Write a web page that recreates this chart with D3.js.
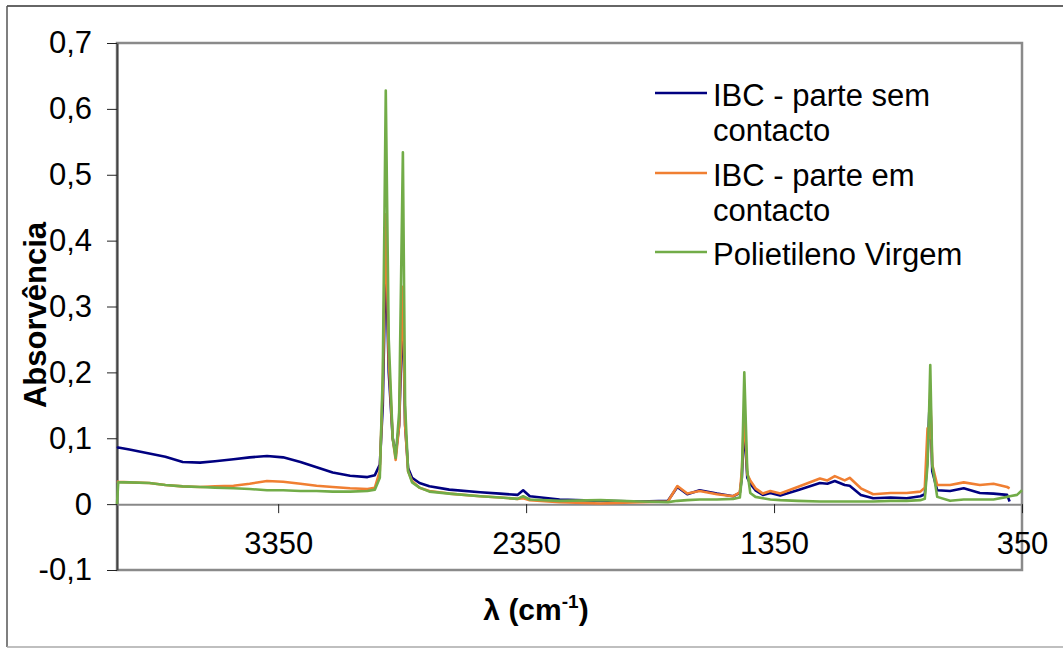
<!DOCTYPE html>
<html>
<head>
<meta charset="utf-8">
<script src="https://cdn.jsdelivr.net/npm/d3@7"></script>
<style>
  body { margin: 0; background: #fff; }
  svg { display: block; font-family: "Liberation Sans", Arial, sans-serif; }
</style>
</head>
<body>
<svg id="chart" width="1063" height="648"></svg>
<script>
// wavenumbers (cm-1)
var wavenumbers = [
  4000, 3995, 3950, 3870, 3805, 3735, 3665, 3605, 3530, 3465,
  3395, 3330, 3260, 3195, 3130, 3060, 2990, 2960, 2940, 2928,
  2916, 2904, 2888, 2876, 2862, 2854, 2847, 2838, 2826, 2810,
  2780, 2740, 2660, 2535, 2455, 2385, 2362, 2335, 2215, 2050,
  1890, 1778, 1740, 1700, 1650, 1580, 1515, 1488, 1480, 1470,
  1458, 1446, 1425, 1395, 1365, 1325, 1255, 1165, 1135, 1105,
  1065, 1045, 1000, 950, 880, 815, 760, 742, 731, 724,
  720, 712, 692, 640, 585, 520, 465, 410, 400, 370,
  350
];

// IBC - parte sem contacto
var semContacto = [
  0.085, 0.086, 0.083, 0.077, 0.072, 0.064, 0.063, 0.065, 0.068, 0.071,
  0.073, 0.071, 0.064, 0.056, 0.048, 0.043, 0.041, 0.044, 0.06, 0.15,
  0.38, 0.20, 0.10, 0.075, 0.12, 0.22, 0.30, 0.12, 0.055, 0.040,
  0.032, 0.027, 0.022, 0.018, 0.016, 0.014, 0.021, 0.012, 0.007, 0.005,
  0.004, 0.005, 0.026, 0.015, 0.021, 0.016, 0.012, 0.017, 0.04, 0.12,
  0.04, 0.031, 0.021, 0.014, 0.017, 0.013, 0.021, 0.032, 0.031, 0.035,
  0.029, 0.028, 0.014, 0.009, 0.010, 0.009, 0.012, 0.015, 0.07, 0.14,
  0.16, 0.05, 0.021, 0.020, 0.024, 0.017, 0.016, 0.014, 0.004, null,
  null
];

// IBC - parte em contacto
var emContacto = [
  0.035, 0.034, 0.033, 0.032, 0.029, 0.027, 0.026, 0.027, 0.028, 0.031,
  0.035, 0.034, 0.031, 0.028, 0.026, 0.024, 0.023, 0.025, 0.05, 0.18,
  0.44, 0.22, 0.10, 0.067, 0.12, 0.25, 0.33, 0.12, 0.05, 0.035,
  0.025, 0.020, 0.016, 0.012, 0.010, 0.008, 0.009, 0.006, 0.003, 0.001,
  0.003, 0.004, 0.0275, 0.016, 0.020, 0.015, 0.012, 0.018, 0.05, 0.14,
  0.045, 0.036, 0.024, 0.016, 0.020, 0.016, 0.026, 0.039, 0.036, 0.0425,
  0.036, 0.040, 0.024, 0.015, 0.017, 0.017, 0.019, 0.025, 0.115, 0.10,
  0.17, 0.06, 0.029, 0.029, 0.033, 0.029, 0.031, 0.026, 0.024, null,
  null
];

// Polietileno Virgem
var virgem = [
  0, 0.033, 0.033, 0.032, 0.029, 0.027, 0.026, 0.025, 0.024, 0.023,
  0.021, 0.021, 0.020, 0.020, 0.019, 0.019, 0.020, 0.022, 0.04, 0.2,
  0.628, 0.25, 0.10, 0.07, 0.14, 0.35, 0.534, 0.15, 0.05, 0.033,
  0.025, 0.019, 0.016, 0.012, 0.010, 0.008, 0.012, 0.007, 0.005, 0.006,
  0.004, 0.003, 0.005, 0.006, 0.007, 0.007, 0.008, 0.010, 0.04, 0.2,
  0.05, 0.017, 0.011, 0.009, 0.007, 0.006, 0.005, 0.004, 0.004, 0.004,
  0.004, 0.004, 0.004, 0.004, 0.005, 0.005, 0.006, 0.008, 0.06, 0.15,
  0.211, 0.06, 0.011, 0.005, 0.007, 0.007, 0.007, 0.011, 0.012, 0.014,
  0.021
];

var seriesNames = ['IBC - parte sem contacto', 'IBC - parte em contacto', 'Polietileno Virgem'];
var legendLines = [['IBC - parte sem', 'contacto'], ['IBC - parte em', 'contacto'], ['Polietileno Virgem']];
var seriesColors = ['#000080', '#F07F32', '#72AC48'];
var xTicks = [3350, 2350, 1350, 350];
var yTicks = [-0.1, 0, 0.1, 0.2, 0.3, 0.4, 0.5, 0.6, 0.7];

var svg = d3.select('#chart');

// outer chart border (right side runs off the picture)
svg.append('line').attr('x1', 7).attr('x2', 1063).attr('y1', 6).attr('y2', 6)
  .attr('stroke', '#333').attr('stroke-width', 1.5);
svg.append('line').attr('x1', 7).attr('x2', 7).attr('y1', 6).attr('y2', 647)
  .attr('stroke', '#555').attr('stroke-width', 1.5);
svg.append('line').attr('x1', 7).attr('x2', 1063).attr('y1', 647).attr('y2', 647)
  .attr('stroke', '#aaa').attr('stroke-width', 1.5);

var plotLeft = 117, plotRight = 1022, plotTop = 43, plotBottom = 570;

var x = d3.scaleLinear().domain([4000, 350]).range([plotLeft, plotRight]);
var y = d3.scaleLinear().domain([-0.1, 0.7]).range([plotBottom, plotTop]);

// plot area frame
svg.append('rect')
  .attr('x', plotLeft).attr('y', plotTop)
  .attr('width', plotRight - plotLeft).attr('height', plotBottom - plotTop)
  .attr('fill', 'none').attr('stroke', '#8a8a8a').attr('stroke-width', 2.5);

function fmt(d) { return (+d.toFixed(1)).toString().replace('.', ','); }

// y axis
var yAxis = svg.append('g')
  .attr('transform', 'translate(' + plotLeft + ',0)')
  .call(d3.axisLeft(y).tickValues(yTicks).tickSize(10).tickSizeOuter(0).tickPadding(15).tickFormat(fmt));
yAxis.select('.domain').attr('stroke', '#444').attr('stroke-width', 2);
yAxis.selectAll('.tick line').attr('stroke', '#222');
yAxis.selectAll('.tick text').attr('font-size', 31).attr('fill', '#000')
  .attr('font-family', '"Liberation Sans", Arial, sans-serif');

// x axis sits on zero
var xAxis = svg.append('g')
  .attr('transform', 'translate(0,' + y(0) + ')')
  .call(d3.axisBottom(x).tickValues(xTicks).tickSize(9).tickSizeOuter(0).tickPadding(19).tickFormat(d3.format('d')));
xAxis.select('.domain').attr('stroke', '#888').attr('stroke-width', 2);
xAxis.selectAll('.tick line').attr('stroke', '#222');
xAxis.selectAll('.tick text').attr('font-size', 31).attr('fill', '#000')
  .attr('font-family', '"Liberation Sans", Arial, sans-serif');

// spectra
var allSeries = [semContacto, emContacto, virgem];
var line = d3.line()
  .defined(function(d) { return d[1] !== null; })
  .x(function(d) { return x(d[0]); })
  .y(function(d) { return y(d[1]); });

allSeries.forEach(function(vals, i) {
  var pts = wavenumbers.map(function(w, j) { return [w, vals[j]]; });
  svg.append('path')
    .datum(pts)
    .attr('fill', 'none')
    .attr('stroke', seriesColors[i])
    .attr('stroke-width', 2.6)
    .attr('stroke-linejoin', 'round')
    .attr('d', line);
});

// legend
var legendY = [93, 173, 252];
legendLines.forEach(function(rows, i) {
  svg.append('line')
    .attr('x1', 655).attr('x2', 707)
    .attr('y1', legendY[i]).attr('y2', legendY[i])
    .attr('stroke', seriesColors[i]).attr('stroke-width', 2.6);
  var t = svg.append('text')
    .attr('x', 713).attr('y', legendY[i] + 13)
    .attr('font-size', 31).attr('fill', '#000');
  rows.forEach(function(r, k) {
    t.append('tspan').attr('x', 713).attr('dy', k === 0 ? 0 : 35).text(r);
  });
});

// axis titles
svg.append('text')
  .attr('transform', 'translate(46,315) rotate(-90)')
  .attr('text-anchor', 'middle')
  .attr('font-size', 31).attr('font-weight', 'bold')
  .text('Absorvência');

var xt = svg.append('text')
  .attr('x', 536).attr('y', 620)
  .attr('text-anchor', 'middle')
  .attr('font-size', 30).attr('font-weight', 'bold');
xt.append('tspan').text('λ (cm');
xt.append('tspan').attr('font-size', 19).attr('dy', -12).text('-1');
xt.append('tspan').attr('dy', 12).text(')');
</script>
</body>
</html>
